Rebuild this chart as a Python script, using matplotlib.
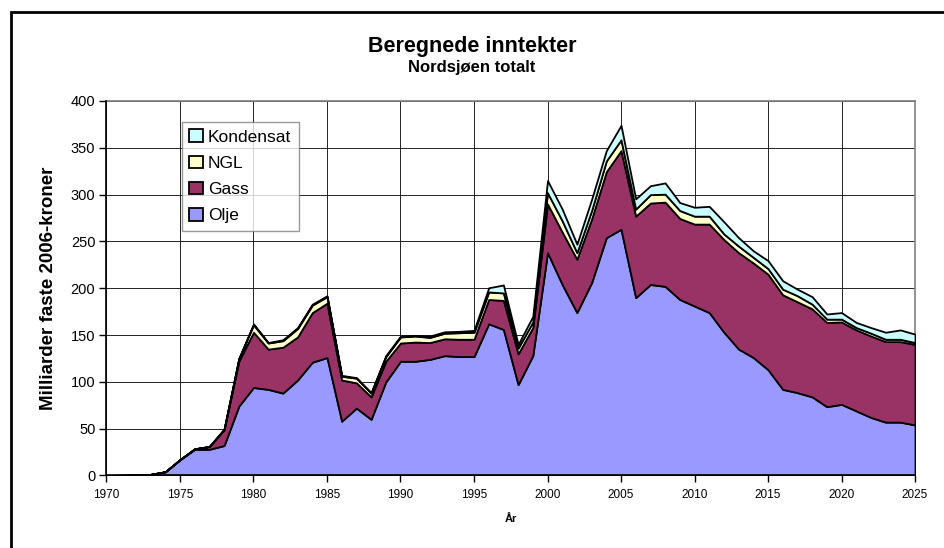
import numpy as np
import matplotlib
matplotlib.use("Agg")
import matplotlib.pyplot as plt
from matplotlib.patches import Rectangle

plt.rcParams['font.family'] = ['Liberation Sans', 'DejaVu Sans']

# data (milliarder faste 2006-kroner)
years = np.arange(1970, 2026)
olje = [0, 0.2, 0.5, 1.2, 4, 17, 28, 28, 32, 74,
        94, 92, 88, 102, 121, 126, 58, 72, 60, 100,
        122, 122, 124, 128, 127, 127, 162, 156, 97, 128,
        238, 204, 174, 206, 254, 263, 190, 204, 202, 188,
        181, 174, 153, 135, 126, 113, 92, 88.5, 84, 73.5,
        76, 69, 62, 57, 57, 54]
gass = [0, 0, 0, 0, 0, 0, 0.5, 3, 17, 48,
        59, 43, 49, 46, 53, 58, 44, 27, 24, 22,
        19.5, 20.5, 18, 18, 18.5, 18.5, 26, 31, 33, 30,
        52, 56, 57, 68, 70.5, 84, 87, 87, 90, 86.5,
        87.5, 94.5, 99, 103, 101, 102, 101, 97, 94, 90,
        88, 86.5, 87, 86, 86, 86]
ngl = [0, 0, 0, 0, 0, 0, 0, 0, 0.5, 2.5,
       8, 6.5, 7, 9, 8, 7, 4, 5, 4, 5,
       6.5, 6.5, 5.5, 6, 7, 7.5, 8, 8, 6, 6,
       12, 12, 7, 9, 11.5, 11.5, 7.5, 9, 8.5, 8.5,
       8.5, 8.5, 6, 7, 6, 6, 6, 6.5, 5, 3.5,
       3, 2.5, 3, 2.5, 2.5, 2]
kondensat = [0, 0, 0, 0, 0, 0, 0, 0, 0, 0.5,
             1, 0.5, 1, 1, 1, 1, 1, 0.5, 0.5, 1,
             1, 0.5, 1.5, 1.5, 1.5, 2, 4.5, 8.5, 4, 6,
             13, 12.5, 9, 12, 11, 15.5, 11, 9.5, 12, 8.5,
             9.5, 10.5, 13, 9, 7, 8.5, 9, 7, 8, 5.5,
             7, 5.5, 6, 7.5, 10, 9]

names = ["Olje", "Gass", "NGL", "Kondensat"]
farger = ["#9999FF", "#993366", "#FFFFCC", "#CCFFFF"]

fig = plt.figure(figsize=(9.44, 5.48), dpi=100)
ax = fig.add_axes([0.1128, 0.1323, 0.8565, 0.6834])

polys = ax.stackplot(years, olje, gass, ngl, kondensat, labels=names,
                     colors=farger, edgecolor="black", linewidth=1.3, zorder=3)

ax.set_xlim(1970, 2025)
ax.set_ylim(0, 400)
ax.set_xticks(np.arange(1970, 2026, 5))
ax.set_yticks(np.arange(0, 401, 50))
ax.grid(True, color="#222222", linewidth=0.7, zorder=0)
ax.set_axisbelow(True)

ax.tick_params(axis="y", labelsize=10.5, length=5, width=1, direction="out", pad=3)
ax.tick_params(axis="x", labelsize=8.5, length=5, width=1, direction="out", pad=5)
for s in ["top", "right"]:
    ax.spines[s].set_color("#808080")
    ax.spines[s].set_linewidth(1.2)
for s in ["left", "bottom"]:
    ax.spines[s].set_color("black")
    ax.spines[s].set_linewidth(1.2)
ax.spines["left"].set_zorder(4)
ax.spines["bottom"].set_zorder(4)

ax.set_xlabel("År", fontsize=8, fontweight="bold", labelpad=9)
ax.set_ylabel("Milliarder faste 2006-kroner", fontsize=13.5, fontweight="bold", labelpad=10)

fig.text(0.5, 0.916, "Beregnede inntekter", ha="center", va="center",
         fontsize=15.5, fontweight="bold")
fig.text(0.5, 0.877, "Nordsjøen totalt", ha="center", va="center",
         fontsize=12, fontweight="bold")

# legend in reverse order, like Excel
h, l = ax.get_legend_handles_labels()
leg = ax.legend(h[::-1], l[::-1], loc="upper left", bbox_to_anchor=(0.093, 0.945),
                fontsize=12.5, frameon=True, fancybox=False, edgecolor="#808080",
                handlelength=0.75, handleheight=0.75, handletextpad=0.3,
                labelspacing=0.62, borderpad=0.45, borderaxespad=0)
leg.get_frame().set_linewidth(1.0)

# outer chart border (left and top visible)
fig.patches.append(Rectangle((11 / 944, -0.2), 1.5, 0.978 + 0.2, fill=False,
                             edgecolor="black", linewidth=2, transform=fig.transFigure))

fig.savefig("out.png", dpi=100)
